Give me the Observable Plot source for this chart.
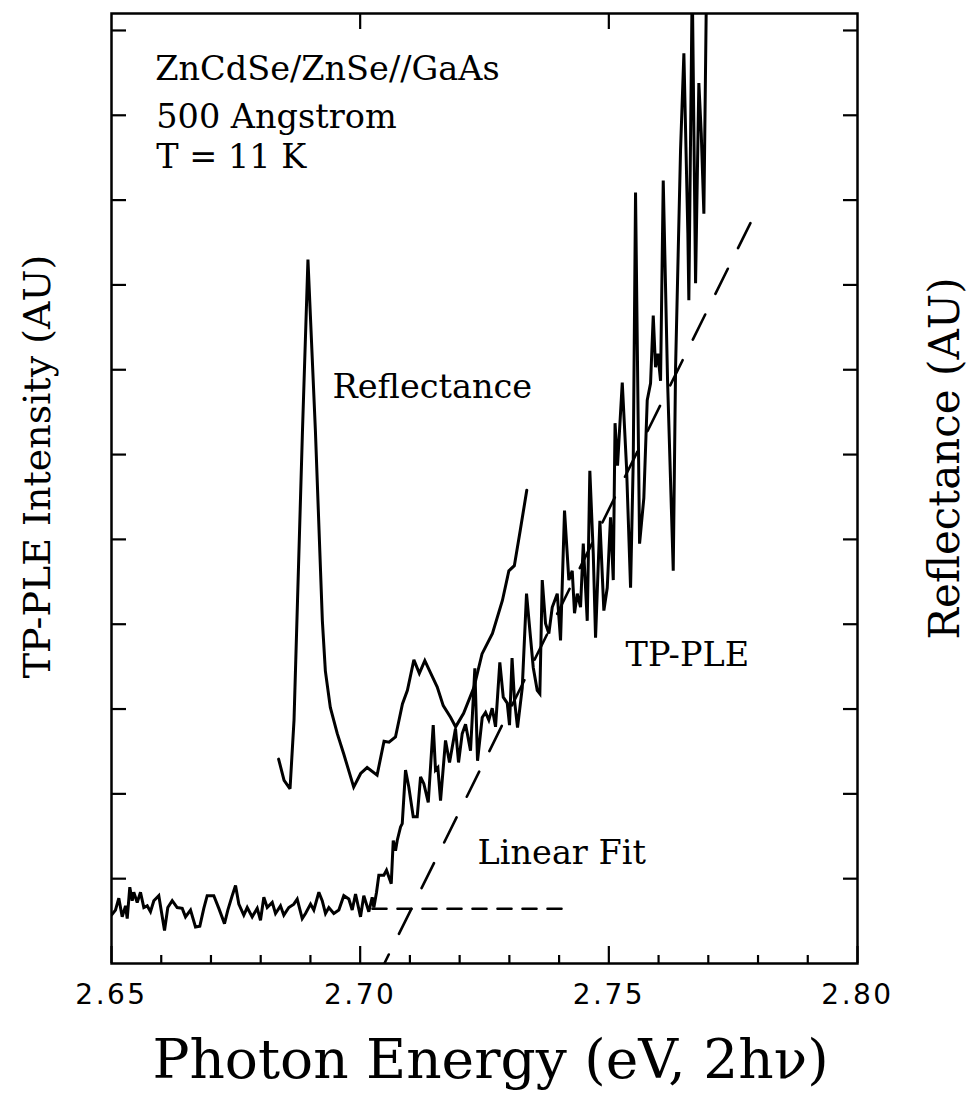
<!DOCTYPE html>
<html><head><meta charset="utf-8">
<script src="https://cdn.jsdelivr.net/npm/d3@7"></script>
<script src="https://cdn.jsdelivr.net/npm/@observablehq/plot@0.6"></script>
<style>
html,body{margin:0;padding:0;background:#fff;}
#chart svg{display:block;}
g[aria-label="x-axis tick label"] text{letter-spacing:2.5px;}
g[aria-label="axis title x"] text{letter-spacing:7.5px;}
g[aria-label="axis title y left"] text{letter-spacing:1.5px;}
g[aria-label="axis title y right"] text{letter-spacing:2.5px;}
</style></head><body><div id="chart"></div>
<script>
// Reflectance curve (photon energy eV, AU)
const reflE = [2.6836, 2.6847, 2.6859, 2.6867, 2.6884, 2.6895, 2.6910, 2.6924, 2.6930, 2.6940, 2.6954, 2.6967, 2.6987, 2.7001, 2.7014, 2.7034, 2.7048, 2.7058, 2.7071, 2.7085, 2.7095, 2.7108, 2.7119, 2.7130, 2.7142, 2.7155, 2.7167, 2.7182, 2.7192, 2.7208, 2.7229, 2.7245, 2.7266, 2.7286, 2.7299, 2.7310, 2.7322, 2.7335];
const reflI = [2.41, 2.16, 2.06, 2.87, 6.28, 8.30, 6.28, 4.04, 3.45, 3.02, 2.71, 2.47, 2.08, 2.24, 2.31, 2.22, 2.62, 2.61, 2.67, 3.06, 3.22, 3.58, 3.42, 3.57, 3.42, 3.26, 3.04, 2.90, 2.79, 2.95, 3.26, 3.65, 3.89, 4.28, 4.63, 4.69, 5.11, 5.58];

// TP-PLE curve
const tpE = [2.6500, 2.6508, 2.65147, 2.65215, 2.65282, 2.65316, 2.65368, 2.65416, 2.65448, 2.65517,
  2.65583, 2.65650, 2.65718, 2.65784, 2.65851, 2.65951, 2.66066, 2.66132, 2.66221, 2.66321,
  2.66422, 2.66488, 2.66589, 2.66689, 2.66776, 2.66856, 2.66924, 2.67057, 2.67158, 2.67272,
  2.67339, 2.67427, 2.67494, 2.67560, 2.67660, 2.67729, 2.67829, 2.67930, 2.67996, 2.68063,
  2.68131, 2.68232, 2.68298, 2.68398, 2.68465, 2.68565, 2.68666, 2.68734, 2.68835, 2.68901,
  2.69002, 2.69068, 2.69169, 2.69237, 2.69303, 2.69370, 2.69470, 2.69571, 2.69671, 2.69772,
  2.69840, 2.69907, 2.70007, 2.70073, 2.70174, 2.70242, 2.70275, 2.70329, 2.70375, 2.70476,
  2.70530, 2.70625, 2.70665, 2.70711, 2.70745, 2.70812, 2.70846, 2.70912, 2.70978, 2.71067,
  2.71147, 2.71214, 2.71280, 2.71369, 2.71469, 2.71515, 2.71562, 2.71616, 2.71716, 2.71797,
  2.71857, 2.71917, 2.71978, 2.72052, 2.72119, 2.72219, 2.72306, 2.72360, 2.72454, 2.72521,
  2.72587, 2.72655, 2.72722, 2.72808, 2.72877, 2.72957, 2.73003, 2.73054, 2.73104, 2.73164,
  2.73259, 2.73345, 2.73426, 2.73480, 2.73560, 2.73613, 2.73661, 2.73727, 2.73794, 2.73862,
  2.73963, 2.74029, 2.74109, 2.74196, 2.74264, 2.74310, 2.74365, 2.74431, 2.74486, 2.74566,
  2.74618, 2.74687, 2.74733, 2.74820, 2.74900, 2.74968, 2.75034, 2.75089, 2.75125, 2.75175,
  2.75270, 2.75356, 2.75437, 2.75491, 2.75537, 2.75618, 2.75704, 2.75772, 2.75839, 2.75893,
  2.75939, 2.75986, 2.76040, 2.76094, 2.76181, 2.76295, 2.76342, 2.76442, 2.76509, 2.76589,
  2.76609, 2.76677, 2.76744, 2.76810, 2.76858, 2.76911, 2.76965];
const tpI = [0.57, 0.63, 0.77, 0.55, 0.68, 0.53, 0.90, 0.74, 0.84, 0.72,
  0.84, 0.66, 0.68, 0.61, 0.74, 0.80, 0.39, 0.66, 0.74, 0.66,
  0.65, 0.55, 0.63, 0.43, 0.44, 0.65, 0.80, 0.80, 0.65, 0.47,
  0.63, 0.80, 0.92, 0.70, 0.57, 0.66, 0.55, 0.65, 0.51, 0.78,
  0.66, 0.72, 0.59, 0.68, 0.57, 0.66, 0.70, 0.76, 0.53, 0.59,
  0.70, 0.63, 0.84, 0.74, 0.59, 0.66, 0.59, 0.63, 0.80, 0.76,
  0.63, 0.82, 0.55, 0.80, 0.61, 0.78, 0.66, 0.84, 1.04, 1.04,
  1.10, 0.94, 1.45, 1.33, 1.45, 1.61, 1.65, 2.28, 2.08, 1.73,
  1.73, 2.20, 2.12, 1.90, 2.81, 2.28, 2.31, 1.92, 2.63, 2.37,
  2.57, 2.77, 2.37, 2.71, 2.82, 2.51, 3.48, 2.39, 2.90, 2.96,
  2.87, 3.01, 2.79, 3.55, 3.14, 3.07, 2.81, 3.60, 3.10, 2.78,
  3.25, 4.36, 3.84, 3.49, 3.22, 3.18, 4.52, 4.01, 3.89, 4.20,
  4.36, 3.81, 5.34, 4.52, 4.63, 4.13, 4.36, 4.20, 4.95, 4.04,
  5.81, 4.83, 3.84, 5.22, 4.16, 4.43, 5.26, 4.52, 6.37, 5.87,
  6.85, 5.85, 4.43, 5.93, 9.09, 4.95, 5.49, 6.64, 6.84, 7.64,
  7.03, 7.19, 6.87, 9.23, 6.87, 4.63, 7.03, 9.59, 10.73, 8.61,
  7.82, 11.6, 8.02, 10.38, 9.79, 8.84, 11.6];

// Linear fits
const fitSlopeE = [2.70486, 2.77856];
const fitSlopeI = [0.0, 8.74];
const fitBaseE = [2.70248, 2.74069];
const fitBaseI = [0.645, 0.645];

// Ticks
const xMajor = [2.65, 2.70, 2.75, 2.80];
const xTopMajor = [2.70, 2.75];
const xMinor = [2.66, 2.67, 2.68, 2.69, 2.71, 2.72, 2.73, 2.74, 2.76, 2.77, 2.78, 2.79];
const yTicks = [1, 2, 3, 4, 5, 6, 7, 8, 9, 10, 11];

// Annotations
const noteText = ["ZnCdSe/ZnSe//GaAs", "500 Angstrom", "T = 11 K", "Reflectance", "TP-PLE", "Linear Fit"];
const noteE = [2.6588, 2.6590, 2.6590, 2.69444, 2.75336, 2.72360];
const noteI = [10.54, 9.98, 9.51, 6.79, 3.63, 1.30];

const xTitle = "Photon Energy (eV, 2hν)";
const yTitleLeft = "TP-PLE Intensity (AU)";
const yTitleRight = "Reflectance (AU)";

const zip = (xs, ys) => xs.map((x, i) => ({E: x, I: ys[i]}));
const refl = zip(reflE, reflI);
const tp = zip(tpE, tpI);
const fitSlope = zip(fitSlopeE, fitSlopeI);
const fitBase = zip(fitBaseE, fitBaseI);
const notes = noteText.map((t, i) => ({t, E: noteE[i], I: noteI[i]}));

const serif = "DejaVu Serif";
const sans = "DejaVu Sans";
const lw = 3;

const chart = Plot.plot({
  width: 971, height: 1114,
  marginLeft: 111, marginRight: 114, marginTop: 13, marginBottom: 151,
  style: {background: "#fff", color: "#000", fontFamily: serif, overflow: "visible"},
  x: {domain: [2.65, 2.80]},
  y: {domain: [0, 11.2]},
  marks: [
    Plot.line(tp, {x: "E", y: "I", stroke: "#000", strokeWidth: lw, strokeLinejoin: "miter", strokeMiterlimit: 3, clip: true}),
    Plot.line(refl, {x: "E", y: "I", stroke: "#000", strokeWidth: lw, strokeLinejoin: "miter", strokeMiterlimit: 3, clip: true}),
    Plot.line(fitSlope, {x: "E", y: "I", stroke: "#000", strokeWidth: 2.6, strokeDasharray: "28,23", strokeDashoffset: 18, clip: true}),
    Plot.line(fitBase, {x: "E", y: "I", stroke: "#000", strokeWidth: 2.6, strokeDasharray: "14,11"}),
    Plot.text(notes, {x: "E", y: "I", text: "t", textAnchor: "start", lineAnchor: "middle", fontSize: 33.5, fontFamily: serif, fill: "#000"}),
    // ticks
    Plot.axisX({anchor: "bottom", ticks: xMajor, tickSize: -17, fill: "none", strokeWidth: 2.2, label: null}),
    Plot.axisX({anchor: "bottom", ticks: xMinor, tickSize: -8, fill: "none", strokeWidth: 2.2, label: null}),
    Plot.axisX({anchor: "top", ticks: xTopMajor, tickSize: -15, fill: "none", strokeWidth: 2.2, label: null}),
    Plot.axisY({anchor: "left", ticks: yTicks, tickSize: -15, fill: "none", strokeWidth: 2.2, label: null}),
    Plot.axisY({anchor: "right", ticks: yTicks, tickSize: -15, fill: "none", strokeWidth: 2.2, label: null}),
    // tick labels
    Plot.axisX({anchor: "bottom", ticks: xMajor, tickSize: 0, tickPadding: 21, tickFormat: d3.format(".2f"), fontSize: 28, fontFamily: sans, fill: "#000", label: null}),
    // axis titles
    Plot.text([xTitle], {text: d => d, frameAnchor: "bottom", textAnchor: "middle", lineAnchor: "middle", dx: 6, dy: 97, fontSize: 55, fontFamily: serif, fill: "#000", ariaLabel: "axis title x"}),
    Plot.text([yTitleLeft], {text: d => d, frameAnchor: "left", textAnchor: "middle", lineAnchor: "middle", dx: -74, dy: -22, rotate: -90, fontSize: 38, fontFamily: serif, fill: "#000", ariaLabel: "axis title y left"}),
    Plot.text([yTitleRight], {text: d => d, frameAnchor: "right", textAnchor: "middle", lineAnchor: "middle", dx: 88, dy: -30, rotate: -90, fontSize: 42, fontFamily: serif, fill: "#000", ariaLabel: "axis title y right"}),
    Plot.frame({stroke: "#000", strokeWidth: 2.5})
  ]
});
document.getElementById("chart").appendChild(chart);
</script></body></html>
